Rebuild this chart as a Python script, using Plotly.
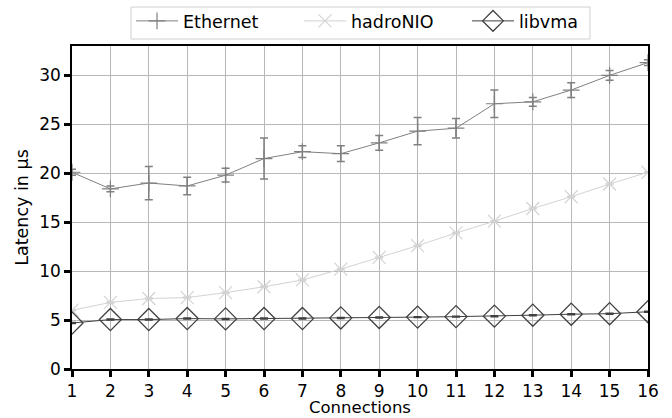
import plotly.graph_objects as go

connections = list(range(1, 17))

ethernet = [20.1, 18.4, 19.0, 18.7, 19.8, 21.5, 22.2, 22.0, 23.1, 24.3, 24.6, 27.1, 27.3, 28.5, 30.0, 31.3]
ethernet_err = [0.3, 0.3, 1.7, 0.9, 0.7, 2.1, 0.6, 0.8, 0.75, 1.4, 1.0, 1.4, 0.45, 0.75, 0.5, 0.3]

hadronio = [6.0, 6.8, 7.2, 7.3, 7.8, 8.4, 9.1, 10.2, 11.4, 12.6, 13.9, 15.1, 16.4, 17.6, 18.9, 20.1]
hadronio_err = [0.05] * 16

libvma = [4.7, 5.05, 5.05, 5.15, 5.12, 5.15, 5.15, 5.22, 5.27, 5.3, 5.35, 5.4, 5.5, 5.6, 5.65, 5.85]
libvma_err = [0.05] * 16

FONT = "DejaVu Sans"
FS = 17.5
FS_TICK = 17
FS_XTITLE = 16.5

W, H = 672, 418
M_L, M_R, M_T, M_B = 72, 24, 46, 49
PLOT_W = W - M_L - M_R
PLOT_H = H - M_T - M_B

fig = go.Figure()

fig.add_trace(go.Scatter(
    x=connections, y=ethernet, name="Ethernet", mode="lines+markers",
    line=dict(color="#808080", width=1),
    marker=dict(symbol="cross-thin-open", size=12, color="#808080",
                line=dict(color="#808080", width=1.2)),
    error_y=dict(type="data", array=ethernet_err, color="#808080",
                 thickness=1.5, width=4),
))

fig.add_trace(go.Scatter(
    x=connections, y=hadronio, name="hadroNIO", mode="lines+markers",
    line=dict(color="#d3d3d3", width=1),
    marker=dict(symbol="x-thin-open", size=13, color="#d3d3d3",
                line=dict(color="#d3d3d3", width=1.2)),
    error_y=dict(type="data", array=hadronio_err, color="#d3d3d3",
                 thickness=1.5, width=4),
))

fig.add_trace(go.Scatter(
    x=connections, y=libvma, name="libvma", mode="lines+markers",
    line=dict(color="#404040", width=1),
    marker=dict(symbol="diamond-open", size=17, color="#404040",
                line=dict(color="#404040", width=1.3)),
    error_y=dict(type="data", array=libvma_err, color="#404040",
                 thickness=1.5, width=4),
))

axis_common = dict(
    showline=True, linecolor="black", linewidth=1.5, mirror=True,
    ticks="outside", ticklen=6, tickwidth=2.5, tickcolor="black",
    showgrid=True, gridcolor="#b8b8b8", gridwidth=1,
    zeroline=False, automargin=False,
    tickfont=dict(family=FONT, size=FS_TICK, color="black"),
    title_font=dict(family=FONT, size=FS, color="black"),
)

fig.update_xaxes(range=[1, 16], tickmode="linear", tick0=1, dtick=1, **axis_common)
fig.update_yaxes(
    range=[0, 33], tickmode="linear", tick0=0, dtick=5,
    title_text="Latency in µs", title_standoff=6, **axis_common,
)


def px_x(px):
    return (px - M_L) / PLOT_W


def px_y(px):
    return (H - M_B - px) / PLOT_H


# x-axis title, placed flush with the bottom edge below the tick labels
fig.add_annotation(
    text="Connections", xref="paper", yref="paper",
    x=0.5, xanchor="center", y=px_y(418), yanchor="bottom",
    showarrow=False, font=dict(family=FONT, size=FS_XTITLE, color="black"),
    borderpad=0,
)

# rounded frame around the legend row
fig.add_shape(
    type="rect", xref="paper", yref="paper",
    x0=px_x(131), x1=px_x(590), y0=px_y(39), y1=px_y(7),
    line=dict(color="#d0d0d0", width=1), fillcolor="white", layer="below",
)

fig.update_layout(
    width=W, height=H,
    margin=dict(l=M_L, r=M_R, t=M_T, b=M_B),
    plot_bgcolor="white", paper_bgcolor="white",
    font=dict(family=FONT, size=FS, color="black"),
    legend=dict(
        orientation="h",
        xref="container", x=131 / W, xanchor="left",
        yref="container", y=1 - 3 / H, yanchor="top",
        borderwidth=0, bgcolor="rgba(0,0,0,0)",
        font=dict(family=FONT, size=FS), itemwidth=42,
        entrywidth=111, entrywidthmode="pixels",
    ),
    showlegend=True,
)

fig.write_html("out.html")
